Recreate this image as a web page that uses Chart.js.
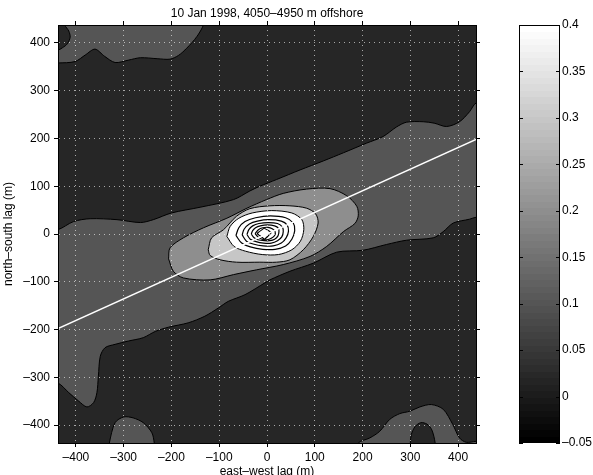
<!DOCTYPE html>
<html>
<head>
<meta charset="utf-8">
<script src="https://cdn.jsdelivr.net/npm/chart.js@4.4.1/dist/chart.umd.min.js"></script>
<style>
  html, body { margin: 0; padding: 0; background: #fff; overflow: hidden; }
  #wrap { position: relative; width: 593px; height: 475px; }
  #main { position: absolute; left: 0; top: 0; }
  #cbar { position: absolute; left: 480px; top: 0; }
</style>
</head>
<body>
<div id="wrap">
  <canvas id="main" width="593" height="475"></canvas>
  <canvas id="cbar" width="113" height="475"></canvas>
</div>
<script>
// axis ranges and ticks
const lagLimit = 437.5;
const xTicks = [-400, -300, -200, -100, 0, 100, 200, 300, 400];
const yTicks = [-400, -300, -200, -100, 0, 100, 200, 300, 400];
const cbMin = -0.05;
const cbMax = 0.4;
const cbTicks = [-0.05, 0, 0.05, 0.1, 0.15, 0.2, 0.25, 0.3, 0.35, 0.4];
const cbTickLabels = ['\u20130.05', '0', '0.05', '0.1', '0.15', '0.2', '0.25', '0.3', '0.35', '0.4'];

// contour outlines, [east-west lag, north-south lag] in m
// (points at +/-460 lie outside the axes, they just close the shapes)
const band010 = [
  [-460, 9], [-437.5, 9], [-405, 26], [-370, 32], [-314, 30], [-265, 24], [-238, 30], [-200, 44],
  [-140, 56], [-70, 72], [-36, 90], [-15, 100], [20, 114], [69, 134], [118, 153], [160, 170],
  [208, 190], [243, 204], [271, 224], [292, 234], [327, 235], [350, 232], [376, 225], [403, 235],
  [424, 256], [437.5, 274], [460, 274],
  [460, 35], [437.5, 35], [424, 31], [390, 23], [369, 5], [348, -8], [292, -13], [250, -22],
  [201, -34], [146, -38], [97, -61], [48, -78], [6, -96], [-4, -102], [-46, -127], [-81, -141],
  [-102, -155], [-130, -172], [-165, -186], [-206, -195], [-234, -204], [-259, -217], [-290, -224],
  [-318, -231], [-339, -238], [-349, -256], [-353, -298], [-356, -332], [-363, -353], [-377, -362],
  [-394, -350], [-415, -332], [-437.5, -312], [-460, -312], [-460, 9]
];
const band010TopLeft = [
  [-460, 358], [-437.5, 358], [-402, 361], [-380, 375], [-360, 387], [-340, 372], [-318, 359],
  [-290, 364], [-265, 369], [-230, 367], [-203, 366], [-185, 374], [-168, 389], [-147, 413],
  [-133, 437.5], [-128, 460], [-460, 460], [-460, 358]
];
const hole010TopLeft = [
  [-423, 460], [-423, 437.5], [-415, 425], [-412, 412], [-418, 398], [-428, 390], [-437.5, 385],
  [-460, 383], [-460, 460], [-423, 460]
];
const band010BottomLeft = [
  [-332, -460], [-330, -437.5], [-318, -395], [-300, -383], [-280, -385], [-259, -395],
  [-241, -416], [-236, -437.5], [-234, -460], [-332, -460]
];
const band010BottomRight = [
  [185, -460], [191, -437.5], [215, -427], [236, -413], [257, -388], [278, -376], [299, -371],
  [320, -362], [344, -357], [369, -367], [389, -399], [403, -427], [417, -436], [437.5, -434],
  [460, -434], [460, -460], [185, -460]
];
const hole010BottomRight = [
  [300, -460], [300, -437.5], [302, -420], [310, -403], [322, -395], [335, -398], [345, -410],
  [352, -437.5], [352, -460], [300, -460]
];
const band020 = [
  [-206, -52], [-203, -29], [-175, -8], [-133, 13], [-84, 33], [-42, 54], [-1, 72], [34, 85],
  [83, 94], [132, 95], [167, 80], [188, 58], [191, 38], [184, 22], [160, 5], [125, -26],
  [90, -47], [34, -64], [-22, -75], [-70, -85], [-119, -96], [-175, -92], [-196, -78], [-206, -52]
];
const band030 = [
  [-123, -33], [-116, -8], [-91, 9], [-64, 37], [-36, 53], [6, 59], [48, 59], [83, 54],
  [102, 42], [107, 23], [97, -5], [76, -33], [48, -54], [20, -59], [-15, -59], [-64, -59],
  [-98, -54], [-119, -45], [-123, -33]
];
const band040 = [
  [-84, -5], [-77, 16], [-59, 33], [-31, 44], [10, 49], [52, 44], [73, 30], [77, 9], [70, -15],
  [52, -33], [24, -43], [-10, -43], [-45, -36], [-69, -26], [-84, -5]
];
const ring050 = [
  [-65, -3], [-59, 13], [-46, 26], [-24, 34], [7, 38], [39, 34], [55, 23], [58, 7], [52, -11],
  [39, -25], [17, -32], [-9, -32], [-35, -27], [-53, -19], [-65, -3]
];
const ring060 = [
  [-52, -2], [-48, 10], [-37, 21], [-20, 27], [4, 30], [30, 27], [42, 19], [45, 6], [40, -8],
  [30, -19], [13, -25], [-8, -25], [-29, -21], [-43, -15], [-52, -2]
];
const ring070 = [
  [-42, -1], [-38, 9], [-30, 17], [-17, 22], [3, 24], [22, 22], [32, 15], [34, 5], [31, -6],
  [22, -14], [9, -19], [-7, -19], [-23, -16], [-35, -11], [-42, -1]
];
const ring080 = [
  [-33, 0], [-30, 7], [-24, 13], [-14, 17], [1, 19], [16, 17], [24, 12], [25, 5], [23, -4],
  [16, -11], [6, -14], [-6, -14], [-19, -12], [-27, -8], [-33, 0]
];
const ring090 = [
  [-25, 1], [-18, 9], [-9, 13], [2, 14], [11, 11], [17, 5], [16, -3], [9, -9], [0, -12],
  [-10, -11], [-19, -6], [-25, 1]
];
const ring095 = [[-21, 1], [-6, 12], [9, 3], [-5, -11], [-21, 1]];
const principalAxis = [[-437.5, -198], [437.5, 198]];

// grey levels of the filled regions
const greyOuter = '#262626';
const grey010 = '#555555';
const grey020 = '#8e8e8e';
const grey030 = '#c6c6c6';
const grey040 = '#ffffff';

// bottom to top
const layers = [
  { data: band010, color: grey010 },
  { data: band010TopLeft, color: grey010 },
  { data: band010BottomLeft, color: grey010 },
  { data: band010BottomRight, color: grey010 },
  { data: hole010TopLeft, color: greyOuter },
  { data: hole010BottomRight, color: greyOuter },
  { data: band020, color: grey020 },
  { data: band030, color: grey030 },
  { data: band040, color: grey040 },
  { data: ring050, fill: false, width: 1.2 },
  { data: ring060, fill: false, width: 1.2 },
  { data: ring070, fill: false, width: 1.2 },
  { data: ring080, fill: false, width: 1.2 },
  { data: ring090, fill: false, width: 1.2 },
  { data: ring095, fill: false, width: 1.2, tension: 0.05 }
];

const datasets = layers.map((l, i) => ({
  data: l.data,
  showLine: true,
  fill: l.fill === false ? false : 'shape',
  backgroundColor: l.color || 'transparent',
  borderColor: '#000',
  borderWidth: l.width || 1,
  tension: l.tension !== undefined ? l.tension : 0.3,
  pointRadius: 0,
  pointHoverRadius: 0,
  order: -i,
  xAxisID: 'x',
  yAxisID: 'y'
}));
datasets.push({
  data: principalAxis,
  showLine: true,
  fill: false,
  borderColor: '#fff',
  borderWidth: 1.3,
  pointRadius: 0,
  pointHoverRadius: 0,
  order: -layers.length,
  xAxisID: 'x',
  yAxisID: 'y'
});

Chart.defaults.font.family = "'Liberation Sans', Arial, Helvetica, sans-serif";
Chart.defaults.font.size = 12;
Chart.defaults.color = '#000';

const gridDotColor = 'rgba(255, 255, 255, 0.6)';
const lagTickLabel = v => (v < 0 ? '\u2013' + Math.abs(v) : String(v));

// dark fill under the lowest contour
const plotBackground = {
  id: 'plotBackground',
  beforeDatasetsDraw(chart) {
    const { ctx, chartArea: a } = chart;
    ctx.save();
    ctx.fillStyle = greyOuter;
    ctx.fillRect(a.left, a.top, a.right - a.left, a.bottom - a.top);
    ctx.restore();
  }
};

new Chart(document.getElementById('main'), {
  type: 'scatter',
  data: { datasets },
  options: {
    responsive: false,
    animation: false,
    events: [],
    layout: { padding: 0 },
    plugins: { legend: { display: false }, tooltip: { enabled: false } },
    scales: {
      x: {
        type: 'linear', position: 'bottom', min: -lagLimit, max: lagLimit,
        afterBuildTicks: s => { s.ticks = xTicks.map(v => ({ value: v })); },
        afterFit: s => { s.height = 32; },
        ticks: { callback: lagTickLabel, padding: 3.5, maxRotation: 0, autoSkip: false },
        // grid drawn over the filled contours
        grid: { z: 1, color: gridDotColor, tickColor: '#000', tickLength: 4 },
        border: { z: 2, color: '#000', dash: [1, 4] },
        title: { display: true, text: 'east\u2013west lag (m)', padding: { top: 0, bottom: -4 } }
      },
      y: {
        type: 'linear', position: 'left', min: -lagLimit, max: lagLimit,
        afterBuildTicks: s => { s.ticks = yTicks.map(v => ({ value: v })); },
        afterFit: s => { s.width = 58; },
        ticks: { callback: lagTickLabel, padding: 4, autoSkip: false },
        grid: { z: 1, color: gridDotColor, tickColor: '#000', tickLength: 4 },
        border: { z: 2, color: '#000', dash: [1, 4] },
        title: { display: true, text: 'north\u2013south lag (m)', padding: { top: 1, bottom: 0 } }
      },
      x2: {
        type: 'linear', position: 'top', min: -lagLimit, max: lagLimit,
        afterBuildTicks: s => { s.ticks = xTicks.map(v => ({ value: v })); },
        afterFit: s => { s.height = 25; },
        ticks: { display: false },
        grid: { drawOnChartArea: false, tickColor: '#000', tickLength: 4 },
        border: { z: 2, color: '#000' },
        title: { display: true, text: '10 Jan 1998, 4050\u20134950 m offshore', padding: { top: 6, bottom: 0 } }
      },
      y2: {
        type: 'linear', position: 'right', min: -lagLimit, max: lagLimit,
        afterBuildTicks: s => { s.ticks = yTicks.map(v => ({ value: v })); },
        afterFit: s => { s.width = 117; },
        ticks: { display: false },
        grid: { drawOnChartArea: false, tickColor: '#000', tickLength: 4 },
        border: { z: 2, color: '#000' }
      }
    }
  },
  plugins: [plotBackground]
});

// colour bar: 64 grey steps, black at the bottom
const colorbarPlugin = {
  id: 'colorbar',
  beforeDraw(chart) {
    const { ctx, chartArea: a, scales: { y } } = chart;
    const n = 64;
    ctx.save();
    for (let i = 0; i < n; i++) {
      const lo = cbMin + (cbMax - cbMin) * i / n;
      const hi = cbMin + (cbMax - cbMin) * (i + 1) / n;
      const g = Math.round(255 * i / (n - 1));
      ctx.fillStyle = `rgb(${g},${g},${g})`;
      const y0 = Math.floor(y.getPixelForValue(hi));
      const y1 = Math.ceil(y.getPixelForValue(lo));
      ctx.fillRect(a.left, y0, a.right - a.left, y1 - y0);
    }
    ctx.restore();
  },
  afterDraw(chart) {
    const { ctx, chartArea: a, scales: { y } } = chart;
    ctx.save();
    ctx.strokeStyle = '#000';
    ctx.lineWidth = 1;
    ctx.strokeRect(a.left + 0.5, a.top + 0.5, a.right - a.left, a.bottom - a.top - 1);
    ctx.beginPath();
    cbTicks.forEach(v => {
      const py = Math.round(y.getPixelForValue(v)) + 0.5;
      ctx.moveTo(a.left, py); ctx.lineTo(a.left + 4, py);
      ctx.moveTo(a.right + 1, py); ctx.lineTo(a.right - 3, py);
    });
    ctx.stroke();
    ctx.restore();
  }
};

new Chart(document.getElementById('cbar'), {
  type: 'scatter',
  data: { datasets: [] },
  options: {
    responsive: false,
    animation: false,
    events: [],
    layout: { padding: { left: 39, top: 25, bottom: 32, right: 0 } },
    plugins: { legend: { display: false }, tooltip: { enabled: false } },
    scales: {
      x: { display: false, min: 0, max: 1 },
      y: {
        position: 'right', min: cbMin, max: cbMax,
        afterBuildTicks: s => { s.ticks = cbTicks.map(v => ({ value: v })); },
        afterFit: s => { s.width = 34; },
        ticks: { callback: (v, i) => cbTickLabels[i], padding: 3, autoSkip: false },
        grid: { display: false, drawTicks: false },
        border: { display: false }
      }
    }
  },
  plugins: [colorbarPlugin]
});
</script>
</body>
</html>
